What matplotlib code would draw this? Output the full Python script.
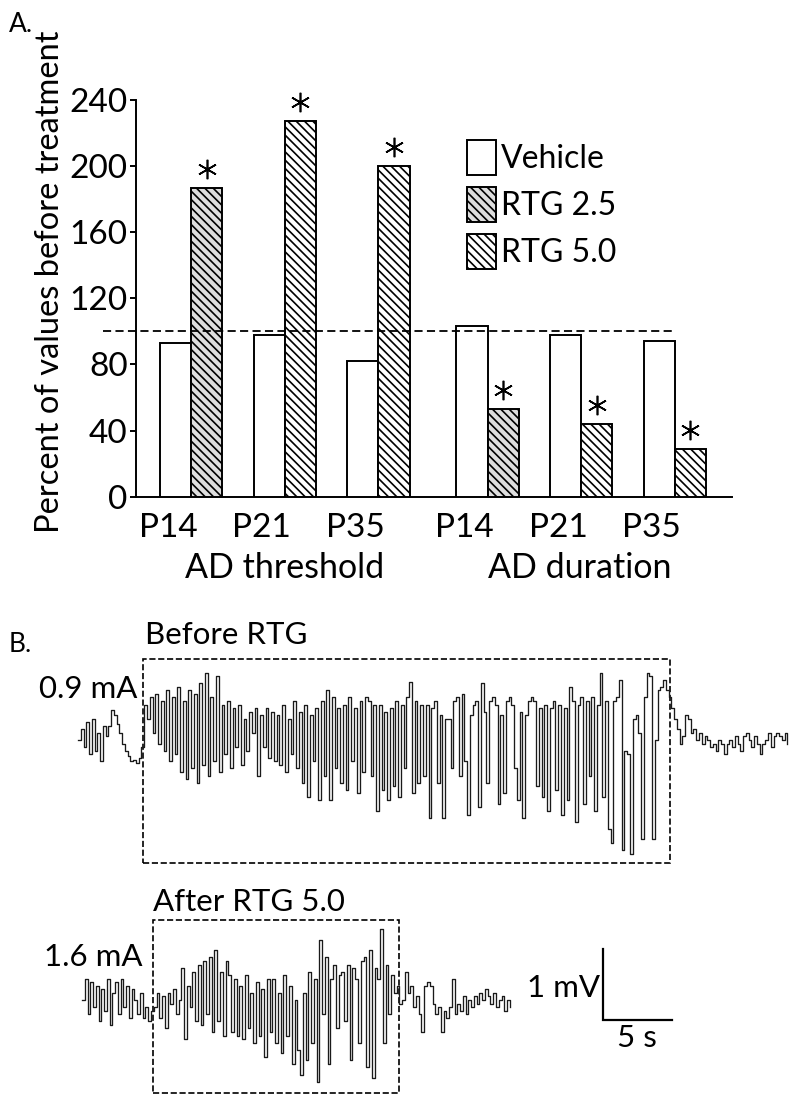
import numpy as np
import matplotlib
matplotlib.use("Agg")
import matplotlib.pyplot as plt
from matplotlib.patches import Patch, Rectangle

plt.rcParams['font.family'] = ['Lato', 'DejaVu Sans']
plt.rcParams['hatch.linewidth'] = 1.2

# ---- panel A data (percent of pre-treatment values) ----
groups = ["P14", "P21", "P35"]
threshold_vehicle = [93, 98, 82]
threshold_rtg = [187, 227, 200]
duration_vehicle = [103, 98, 94]
duration_rtg = [53, 44, 29]
rtg_dose = ["RTG 2.5", "RTG 5.0", "RTG 5.0"]

# ---- panel B data: EEG traces (mV, sampled every 0.2 s) ----
dt = 0.2
trace1_pre = [0.0, 0.15, -0.1, 0.25, -0.2, 0.3, -0.15, 0.1, -0.3, 0.2, 0.05, 0.2,
              0.42, 0.35, 0.22, 0.1, -0.05, -0.15, -0.22, -0.3, -0.28, -0.33, -0.25, -0.1]
trace1_ictal = [
    0.5, 0.3, 0.6, 0.1, 0.65, -0.05, 0.55, -0.15, 0.7, -0.3, 0.6, -0.2, 0.75, -0.45, 0.55, -0.55,
    0.7, -0.4, 0.65, -0.6, 0.8,
    -0.35, 0.95, -0.5, 0.6, -0.3, 0.9, -0.45, 0.5, -0.2, 0.55, -0.4, 0.45, -0.1, 0.5, -0.35, 0.3,
    -0.15, 0.4, 0.1, 0.45, -0.5, 0.35,
    -0.1, 0.45, -0.25, 0.4, -0.3, 0.35, -0.35, 0.5, -0.45, 0.3, -0.2, 0.55, -0.4, 0.4, -0.6, 0.5,
    -0.8, 0.35, -0.3, 0.45, -0.85, 0.55, -0.5, 0.7, -0.85,
    0.6, -0.4, 0.45, -0.6, 0.5, -0.7, 0.6, -0.3, 0.45, -0.75, 0.55, -0.45, 0.6, 0.55, -0.5, 0.5,
    -1.0, 0.5, -0.7, 0.4, -0.85, 0.45,
    -0.65, 0.55, -0.8, 0.5, -0.4, 0.6, 0.82, -0.75, 0.55, -0.6, 0.5, -0.5, 0.5, -1.1, 0.45, 0.55,
    -0.6, 0.35, -1.1, 0.3,
    0.3, -0.4, 0.55, 0.6, -0.5, 0.65, -0.3, -1.05, 0.35, 0.5, 0.55, -0.95, 0.8, 0.4, -0.6, 0.55,
    0.6, 0.5, -0.9, 0.35, -0.75, 0.55, 0.6, 0.5, -0.4, -0.85, 0.4, -1.1, 0.35, 0.55, 0.6, 0.55,
    -0.65, 0.45,
    -0.8, 0.5, -1.0, 0.45, 0.55, -0.7, 0.5, -1.05, 0.45, -0.85, 0.75, 0.55, -1.15, 0.5, 0.6, -0.9,
    0.55, -0.5, 0.6, -1.0, 0.5, 0.95, -0.8, 0.55, -1.25,
    -1.45, 0.55, 0.6, 0.85, -1.55, -0.15, -0.2, -1.6, 0.3, 0.35, 0.1, -1.4, 0.6, 0.95, 0.9, -1.4,
    0.0, 0.7, 0.75, 0.85, 0.7]
trace1_post = [0.6, 0.45, 0.3, 0.15, -0.05, 0.05, 0.35, 0.3, 0.1, 0.15, 0.0, 0.1, -0.05, 0.05,
               0.0, -0.1, -0.05, -0.15, 0.0, -0.05, -0.2, -0.05, 0.0, -0.1, 0.05, -0.05, -0.15,
               0.05, 0.1, 0.0, -0.1, 0.05, -0.05, -0.2, -0.05, 0.0, 0.1, -0.1, 0.05, 0.1, 0.05,
               0.0, 0.1, -0.05]

trace2_pre = [0.0, 0.3, -0.2, 0.25, -0.1, 0.2, -0.3, 0.15, -0.15, 0.3, -0.35, 0.1, 0.25, -0.2,
              0.3, -0.1, 0.2, -0.25, 0.15, 0.0, -0.2, 0.1, -0.25, -0.1, -0.3, -0.15]
trace2_ictal = [
    -0.1, 0.1, -0.25, 0.05, -0.4, 0.1, -0.05, 0.15, -0.2, 0.0,
    0.45, -0.55, 0.2, -0.1, 0.4, -0.3, 0.5, -0.35, 0.55, -0.2, 0.6, -0.45, 0.7, -0.3, 0.4, -0.5,
    0.55, 0.35,
    -0.45, 0.3, -0.5, 0.2, -0.55, 0.35, -0.4, 0.1, -0.6, 0.25, -0.5, 0.15, -0.8, 0.3, -0.45,
    0.3, -0.6, 0.1, -0.75, 0.35, -0.5, 0.2, -0.9, 0.0, -0.7, -1.05,
    0.1, -0.85, 0.4, -0.6, 0.3, -1.15, 0.85, -0.2, 0.6, -0.9, 0.3,
    0.5, -0.4, 0.35, 0.4, -0.3, 0.5, -0.85, 0.45, 0.3, -0.6, 0.55,
    0.6, -0.95, 0.7, -1.1, 0.45, 0.3, 1.0, -0.6, 0.5, -0.2, 0.35, 0.1, 0.2, -0.05]
trace2_post = [0.0, 0.4, 0.1, 0.2, -0.1, 0.05, -0.2, -0.45, 0.2, 0.25, 0.2, -0.05, -0.2, -0.1,
               -0.45, -0.15, -0.25, -0.1, 0.3, -0.2, -0.05, -0.15, 0.05, -0.2, 0.0, -0.1, 0.05,
               -0.05, 0.1, 0.0, 0.15, 0.05, -0.05, 0.1, -0.1, 0.0, 0.05, -0.15, 0.0, -0.1]

W, H = 800, 1107
fig = plt.figure(figsize=(W / 100, H / 100), dpi=100)


def fx(px):
    return px / W


def fy(py):
    return 1 - py / H


# ================= panel A =================
unit = 31.2  # px per bar width
ax = fig.add_axes([fx(136), fy(496.7), 595.7 / W, 396.7 / H])
ax.set_xlim(0, 595.7 / unit)
ax.set_ylim(0, 240)

edge_lw = 1.4
gray = "#dedede"
starts = [0.77, 10.27]
all_lefts, all_rtg_x, all_rtg_h = [], [], []
for start, veh, rtg in [(starts[0], threshold_vehicle, threshold_rtg),
                        (starts[1], duration_vehicle, duration_rtg)]:
    lefts = start + 3 * np.arange(len(groups))
    ax.bar(lefts, veh, width=1, align='edge', facecolor='white', edgecolor='black',
           linewidth=edge_lw, zorder=3)
    for x0, h, dose in zip(lefts + 1, rtg, rtg_dose):
        fc = gray if dose == "RTG 2.5" else 'white'
        ax.bar(x0, h, width=1, align='edge', facecolor=fc, edgecolor='black',
               hatch='\\\\\\\\', linewidth=edge_lw, zorder=3)
        all_rtg_x.append(x0 + 0.5)
        all_rtg_h.append(h)
    all_lefts.extend(lefts)

# significance asterisks
ax.plot(all_rtg_x, np.array(all_rtg_h) + 11.5, linestyle='none', marker=(6, 2, 0),
        markersize=14, markeredgewidth=1.2, color='black', clip_on=False, zorder=4)

# 100 % reference line
ax.plot([-1.06, 17.28], [100, 100], color='black', linestyle='--', linewidth=1.3,
        dashes=(4.5, 2.4), clip_on=False, zorder=5)

ax.spines['top'].set_visible(False)
ax.spines['right'].set_visible(False)
ax.spines['left'].set_linewidth(1.4)
ax.spines['bottom'].set_linewidth(1.4)
ax.set_yticks([0, 40, 80, 120, 160, 200, 240])
ax.tick_params(axis='y', direction='out', length=4.5, width=1.4, pad=1.5, labelsize=24)
ax.set_xticks(np.array(all_lefts) + 0.26)
ax.set_xticklabels(groups * 2)
ax.tick_params(axis='x', length=0, pad=12, labelsize=24)

fig.text(fx(50), fy(282), "Percent of values before treatment", rotation=90,
         ha='center', va='center', fontsize=23.5)
fig.text(fx(9), fy(24), "A.", ha='left', va='center', fontsize=19)
fig.text(fx(285), fy(568), "AD threshold", ha='center', va='center', fontsize=24.5)
fig.text(fx(580), fy(568), "AD duration", ha='center', va='center', fontsize=24.5)

handles = [Patch(facecolor='white', edgecolor='black', linewidth=edge_lw),
           Patch(facecolor=gray, edgecolor='black', hatch='\\\\\\\\', linewidth=edge_lw),
           Patch(facecolor='white', edgecolor='black', hatch='\\\\\\\\', linewidth=edge_lw)]
fig.legend(handles, ["Vehicle", "RTG 2.5", "RTG 5.0"], loc='upper left',
           bbox_to_anchor=(fx(467), fy(140)), frameon=False, fontsize=23,
           borderpad=0, borderaxespad=0, handlelength=0.91, handleheight=1.31,
           labelspacing=0.37, handletextpad=0.15)

# ================= panel B =================
px_per_s = 13.8
px_per_mv = 71.0
axb = fig.add_axes([0, 0, 1, 517 / H])
axb.set_xlim(0, W / px_per_s)
axb.set_ylim(0, 517 / px_per_mv)
axb.axis('off')


def t_of(px):
    return px / px_per_s


def v_of(py):
    return (H - py) / px_per_mv


trace_color = "#1a1a1a"
for start_px, base_py, parts in [(78, 740, (trace1_pre, trace1_ictal, trace1_post)),
                                 (82, 1000, (trace2_pre, trace2_ictal, trace2_post))]:
    v = np.concatenate(parts)
    t = t_of(start_px) + dt * np.arange(len(v))
    axb.plot(t, v_of(base_py) + v, drawstyle='steps-post', color=trace_color,
             linewidth=0.95)

box_style = dict(fill=False, edgecolor='black', linestyle='--', linewidth=1.2)
for x0, y0, x1, y1 in [(143.3, 659, 670, 863.3), (153, 920, 399, 1093)]:
    axb.add_patch(Rectangle((t_of(x0), v_of(y1)), t_of(x1) - t_of(x0),
                            v_of(y0) - v_of(y1), **box_style))

# scale bar 1 mV / 5 s
sx, sy = t_of(603.3), v_of(1020)
axb.plot([sx, sx, sx + 5], [sy + 1, sy, sy], color='black', linewidth=1.6,
         solid_joinstyle='miter')

fig.text(fx(9), fy(645), "B.", ha='left', va='center', fontsize=19)
fig.text(fx(145), fy(635), "Before RTG", ha='left', va='center', fontsize=22.5)
fig.text(fx(137), fy(689), "0.9 mA", ha='right', va='center', fontsize=22.5)
fig.text(fx(153), fy(902), "After RTG 5.0", ha='left', va='center', fontsize=22.5)
fig.text(fx(143), fy(957), "1.6 mA", ha='right', va='center', fontsize=22.5)
fig.text(fx(600), fy(988), "1 mV", ha='right', va='center', fontsize=22.5)
fig.text(fx(637), fy(1038), "5 s", ha='center', va='center', fontsize=22.5)

fig.savefig("out.png", dpi=100, facecolor='white')
